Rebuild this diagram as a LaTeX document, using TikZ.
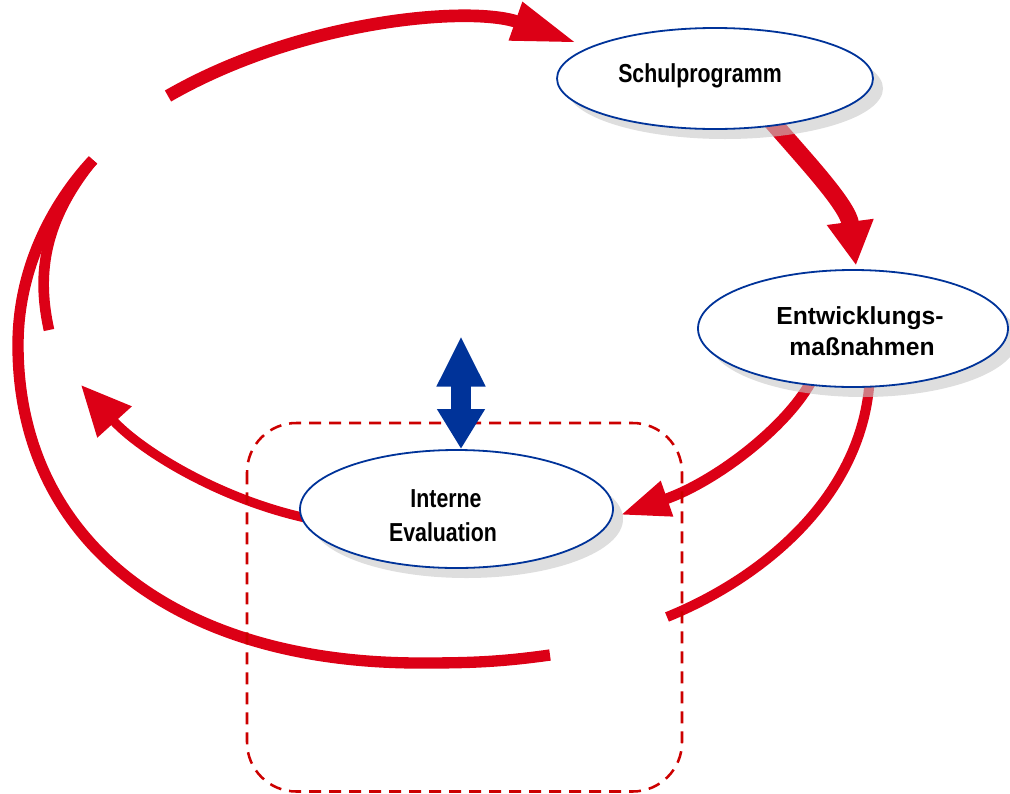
\documentclass[tikz,border=0pt]{standalone}
\usepackage{fontspec}
\setmainfont{Liberation Sans}
\newfontfamily\condfont[FakeStretch=0.82]{Liberation Sans}
\usetikzlibrary{arrows.meta,shapes.geometric}
\definecolor{myred}{RGB}{220,0,22}
\definecolor{dashred}{RGB}{204,0,0}
\definecolor{myblue}{RGB}{0,51,153}
\definecolor{shadowgray}{RGB}{200,200,200}
\pgfdeclarelayer{flowlayer}
\pgfdeclarelayer{shadelayer}
\pgfsetlayers{flowlayer,shadelayer,main}
\begin{document}
\begin{tikzpicture}[x=0.75pt,y=-0.75pt,
  bubble/.style={ellipse, draw=myblue, line width=1.35pt, fill=white, inner sep=0pt},
  shade/.style={ellipse, fill=shadowgray, fill opacity=0.6, inner sep=0pt},
  flow/.style={draw=myred, line width=#1, line cap=butt},
  condlbl/.style={font=\condfont\bfseries\fontsize{19.5}{24}\selectfont, anchor=base, inner sep=0pt},
  widelbl/.style={font=\bfseries\fontsize{18.5}{24}\selectfont, anchor=base, inner sep=0pt},
  boxline/.style={draw=dashred, line width=1.9pt, dash pattern=on 9pt off 6pt, rounded corners=37pt},
  dblarrow/.style={draw=myblue, line width=15pt},
]
\useasboundingbox (0,0) rectangle (1010,793);

% ellipses
\node[bubble, minimum width=237pt, minimum height=75.75pt] (schul) at (715,78.5) {};
\node[bubble, minimum width=232.5pt, minimum height=87.75pt] (ent) at (853,328.5) {};
\node[bubble, minimum width=234.75pt, minimum height=88.5pt] (eval) at (456.5,509) {};

% labels
\node[condlbl] (t1) at (700,82) {Schulprogramm};
\node[widelbl] (t2) at (860,324) {Entwicklungs-};
\node[widelbl] (t3) at (862,355) {maßnahmen};
\node[condlbl] (t4) at (446,507) {Interne};
\node[condlbl] (t5) at (443,541) {Evaluation};

% free ends
\coordinate (a1) at (168,96);
\coordinate (a4e) at (667,617);
\coordinate (a7e) at (81,385);
\coordinate (loopend) at (550,655);
\coordinate (loopbottom) at (420,663);
\coordinate (loopleft) at (18,345);
\coordinate (looptop) at (93,160);
\coordinate (innerend) at (49,330);
\coordinate (btop) at (461,336);

\begin{pgfonlayer}{shadelayer}
\node[shade, minimum width=237pt, minimum height=75.75pt] (schulsh) at (725,88.5) {};
\node[shade, minimum width=232.5pt, minimum height=87.75pt] (entsh) at (863,338.5) {};
\node[shade, minimum width=234.75pt, minimum height=88.5pt] (evalsh) at (466.5,519) {};
\draw[boxline] (247,423) rectangle (682,791.5);
\end{pgfonlayer}

\begin{pgfonlayer}{flowlayer}
% loop -> Schulprogramm
\draw[flow=9.5pt, -{Triangle[length=49pt,width=28pt]}]
  (a1) .. controls (300,20) and (470,5) .. ([shift={(-138,-35.5)}]schul.center);
% Schulprogramm -> Entwicklungsmassnahmen
\draw[flow=13pt, -{Triangle[length=33pt,width=33pt]}]
  ([shift={(50,35)}]schul.center) .. controls (805,160) and (848,205) .. ([shift={(3,-63)}]ent.center);
% Entwicklungsmassnahmen -> Interne Evaluation
\draw[flow=8pt, -{Triangle[length=37pt,width=26pt]}]
  ([shift={(-38,45)}]ent.center) .. controls (795,420) and (720,480) .. ([shift={(164,6)}]eval.center);
% Entwicklungsmassnahmen -> loop
\draw[flow=7.5pt]
  ([shift={(17,45)}]ent.center) .. controls (866,490) and (770,575) .. (a4e);
% Interne Evaluation -> left
\draw[flow=7pt, -{Triangle[length=37.5pt,width=33pt]}]
  ([shift={(-146,10)}]eval.center) .. controls (220,500) and (140,450) .. (a7e);
% big outer loop
\draw[flow=8.5pt] (loopend) .. controls (500,662) and (470,663) .. (loopbottom)
  .. controls (175,663) and (18,540) .. (loopleft)
  .. controls (18,260) and (60,195) .. (looptop);
% inner arc
\draw[flow=8pt] (innerend) .. controls (38,280) and (40,225) .. (looptop);
\end{pgfonlayer}

% blue double arrow
\draw[dblarrow, {Triangle[length=38pt,width=34pt]}-{Triangle[length=30pt,width=34pt]}]
  (btop) -- ([shift={(4.5,-60)}]eval.center);
\end{tikzpicture}
\end{document}
